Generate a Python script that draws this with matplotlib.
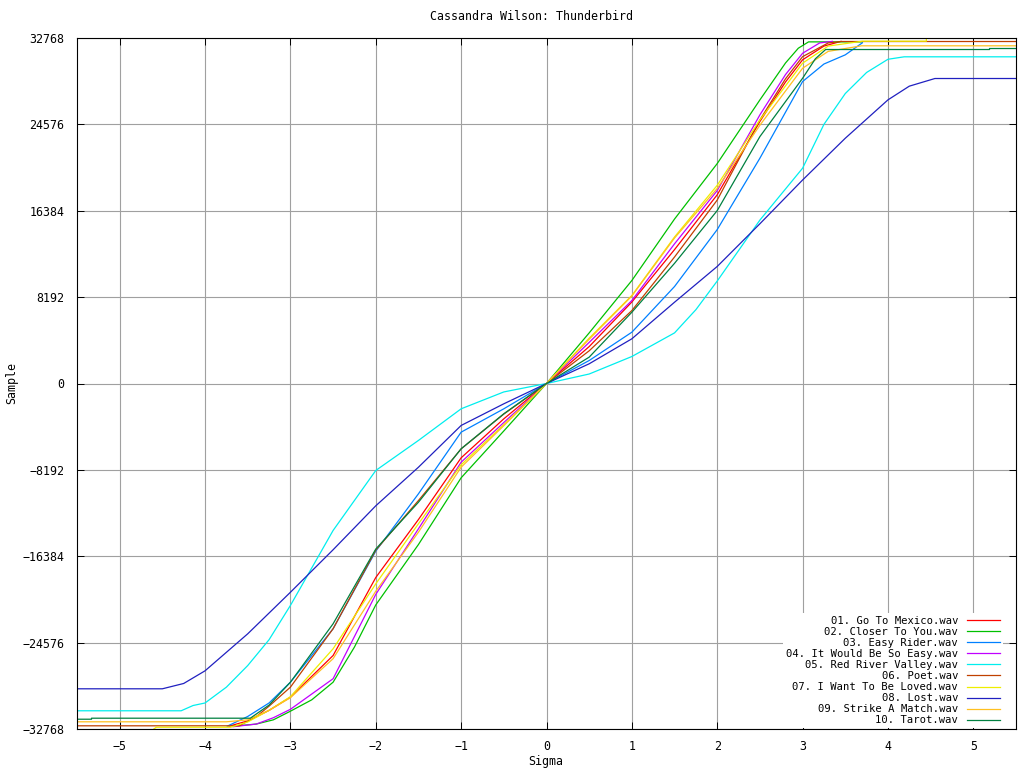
import matplotlib
matplotlib.use("Agg")
import matplotlib.pyplot as plt

# titres des pistes
labels = ['01. Go To Mexico.wav', '02. Closer To You.wav', '03. Easy Rider.wav',
          '04. It Would Be So Easy.wav', '05. Red River Valley.wav', '06. Poet.wav',
          '07. I Want To Be Loved.wav', '08. Lost.wav', '09. Strike A Match.wav',
          '10. Tarot.wav']
colors = ['#ff0000', '#00c000', '#0080ff', '#c000ff', '#00eeee',
          '#c04000', '#eeee00', '#2020c0', '#ffc020', '#008040']

# sigma / sample, piste par piste
sig_01 = [-3.72, -3.5, -3.25, -3.0, -2.5, -2.0, -1.5, -1.0, -0.5, 0.0, 0.5, 1.0, 1.5, 2.0, 2.5, 2.8, 3.0, 3.25, 3.45]
val_01 = [-32500, -32000, -31000, -29750, -25800, -18400, -12900, -7050, -3350, 0, 3500, 7730, 12700, 17900, 24850, 28600, 30700, 32000, 32450]

sig_02 = [-3.67, -3.4, -3.2, -3.0, -2.75, -2.5, -2.25, -2.0, -1.5, -1.0, -0.5, 0.0, 0.5, 1.0, 1.5, 2.0, 2.5, 2.8, 2.95, 3.07, 3.7]
val_02 = [-32500, -32300, -31900, -31080, -30000, -28330, -25000, -21000, -15270, -8944, -4500, 0, 4800, 9770, 15600, 20860, 26900, 30400, 31800, 32400, 32400]

sig_03 = [-3.74, -3.5, -3.25, -3.0, -2.5, -2.0, -1.5, -1.0, -0.5, 0.0, 0.5, 1.0, 1.5, 2.0, 2.5, 3.0, 3.25, 3.5, 3.7]
val_03 = [-32500, -31580, -30300, -28330, -23260, -15900, -10460, -4615, -2400, 0, 2180, 4866, 9200, 14600, 21370, 28640, 30300, 31170, 32310]

sig_04 = [-3.67, -3.4, -3.2, -3.0, -2.5, -2.0, -1.5, -1.0, -0.5, 0.0, 0.5, 1.0, 1.5, 2.0, 2.5, 2.8, 3.0, 3.2, 3.35]
val_04 = [-32550, -32300, -31700, -30900, -28000, -20000, -13780, -7464, -3700, 0, 3900, 7870, 13250, 18300, 25480, 29300, 31320, 32300, 32450]

sig_05 = [-5.5, -4.28, -4.14, -4.0, -3.75, -3.5, -3.25, -3.0, -2.5, -2.0, -1.5, -1.0, -0.5, 0.0, 0.5, 1.0, 1.5, 1.75, 2.0, 2.5, 3.0, 3.25, 3.5, 3.75, 4.0, 4.19, 5.5]
val_05 = [-31040, -31040, -30540, -30300, -28800, -26750, -24300, -21050, -13940, -8250, -5400, -2400, -800, 0, 900, 2560, 4800, 7000, 9720, 15500, 20420, 24576, 27500, 29500, 30750, 30984, 30984]

sig_06 = [-5.5, -3.6, -3.4, -3.25, -3.0, -2.5, -2.0, -1.5, -1.0, -0.5, 0.0, 0.5, 1.0, 1.5, 2.0, 2.5, 2.8, 3.0, 3.3, 3.45, 5.5]
val_06 = [-32465, -32465, -31600, -30600, -28800, -23260, -15800, -11100, -6200, -2900, 0, 3100, 6920, 12000, 17400, 25000, 28900, 31000, 32300, 32435, 32435]

sig_07 = [-4.6, -4.57, -3.7, -3.5, -3.25, -3.0, -2.5, -2.0, -1.5, -1.0, -0.5, 0.0, 0.5, 1.0, 1.5, 2.0, 2.5, 3.0, 3.3, 3.7, 4.45, 4.45]
val_07 = [-32768, -32600, -32600, -32100, -31000, -29700, -25160, -19000, -13300, -7710, -3900, 0, 4300, 8350, 13900, 18800, 25000, 30380, 32000, 32464, 32464, 32767]

sig_08 = [-5.5, -4.5, -4.25, -4.0, -3.5, -3.0, -2.5, -2.0, -1.5, -1.0, -0.5, 0.0, 0.5, 1.0, 1.5, 2.0, 2.5, 3.0, 3.5, 4.0, 4.25, 4.55, 5.5]
val_08 = [-28955, -28955, -28450, -27250, -23740, -19800, -15770, -11600, -7940, -3980, -1925, 0, 1870, 4240, 7710, 11100, 15150, 19300, 23260, 26900, 28200, 28926, 28926]

sig_09 = [-5.5, -3.75, -3.5, -3.25, -3.0, -2.5, -2.0, -1.5, -1.0, -0.5, 0.0, 0.5, 1.0, 1.5, 2.0, 2.5, 3.0, 3.3, 3.69, 5.5]
val_09 = [-32085, -32085, -31900, -31000, -29800, -26100, -19700, -14100, -7940, -4000, 0, 4200, 8300, 13800, 18500, 24500, 29900, 31500, 32027, 32027]

sig_10 = [-5.5, -5.33, -5.33, -3.47, -3.25, -3.0, -2.5, -2.0, -1.5, -1.0, -0.5, 0.0, 0.5, 1.0, 1.5, 2.0, 2.5, 3.0, 3.15, 3.27, 5.19, 5.19, 5.5]
val_10 = [-31840, -31840, -31744, -31744, -30500, -28330, -22790, -15700, -11260, -6190, -2870, 0, 2500, 6760, 11400, 16400, 23420, 28950, 30800, 31676, 31676, 31771, 31771]

sigmas = [sig_01, sig_02, sig_03, sig_04, sig_05, sig_06, sig_07, sig_08, sig_09, sig_10]
values = [val_01, val_02, val_03, val_04, val_05, val_06, val_07, val_08, val_09, val_10]

x_ticks = [-5, -4, -3, -2, -1, 0, 1, 2, 3, 4, 5]
y_ticks = [-32768, -24576, -16384, -8192, 0, 8192, 16384, 24576, 32768]

font = 'DejaVu Sans Mono'
fs = 8.4
fs_leg = 7.6

fig = plt.figure(figsize=(10.24, 7.68), dpi=100)
ax = fig.add_axes([77/1024, 1 - 729/768, 939/1024, 691/768])

for s, v, c, lab in zip(sigmas, values, colors, labels):
    ax.plot(s, v, color=c, lw=0.9, label=lab)

ax.set_xlim(-5.5, 5.5)
ax.set_ylim(-32768, 32768)
ax.set_xticks(x_ticks)
ax.set_yticks(y_ticks)
ax.grid(True, color='#a0a0a0', lw=0.8)
ax.set_axisbelow(True)
ax.tick_params(direction='in', length=5, width=0.7, top=True, right=True,
               labelsize=fs)
ax.tick_params(axis='x', pad=8)
ax.tick_params(axis='y', pad=9)
for t in ax.get_xticklabels() + ax.get_yticklabels():
    t.set_fontfamily(font)
for sp in ax.spines.values():
    sp.set_linewidth(0.8)

fig.text(531/1024, 1 - 16/768, 'Cassandra Wilson: Thunderbird', ha='center', va='center',
         fontsize=fs, family=font)
fig.text(546/1024, 1 - 762/768, 'Sigma', ha='center', va='center', fontsize=fs, family=font)
fig.text(12/1024, 1 - 383/768, 'Sample', ha='center', va='center', rotation=90,
         fontsize=fs, family=font)

leg = ax.legend(loc='lower right', bbox_to_anchor=(0.9862, 0.0014), borderaxespad=0,
                markerfirst=False, frameon=True, fancybox=False, framealpha=1,
                edgecolor='none', facecolor='white', handlelength=3.2,
                handletextpad=0.8, labelspacing=0.1, borderpad=0.25,
                prop={'family': font, 'size': fs_leg})

fig.savefig('out.png', dpi=100)
